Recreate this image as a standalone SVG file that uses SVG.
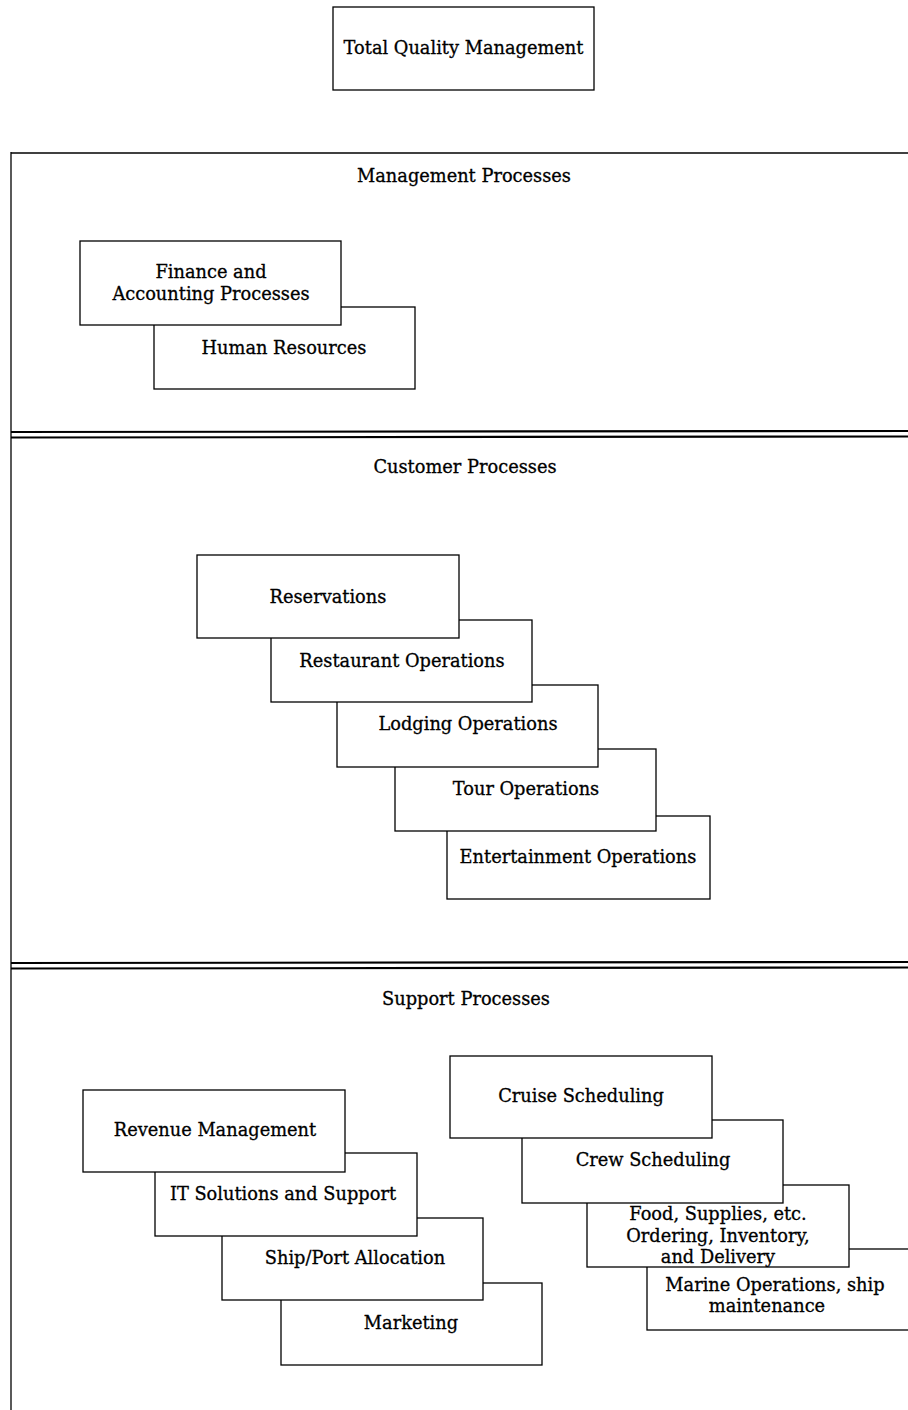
<svg xmlns="http://www.w3.org/2000/svg" width="908" height="1410" viewBox="0 0 908 1410">
<style>
.bx{fill:#fff;stroke:#000;stroke-width:1.3}
.t{font-family:"DejaVu Serif","Liberation Serif",serif;font-size:17.8px;fill:#000;stroke:#000;stroke-width:0.3;text-anchor:middle}
.fr{stroke:#000;fill:none}
</style>
<rect width="908" height="1410" fill="#fff"/>
<g id="frame">
<line class="fr" x1="11" y1="153" x2="908" y2="153" stroke-width="1.3"/>
<line class="fr" x1="11" y1="152" x2="11" y2="1410" stroke-width="1.3"/>
<line class="fr" x1="11" y1="432" x2="908" y2="431" stroke-width="2.2"/>
<line class="fr" x1="11" y1="437.5" x2="908" y2="436.5" stroke-width="2.2"/>
<line class="fr" x1="11" y1="963" x2="908" y2="962" stroke-width="2.2"/>
<line class="fr" x1="11" y1="968.5" x2="908" y2="967.5" stroke-width="2.2"/>
</g>
<g id="tqm"><rect class="bx" x="333" y="7" width="261" height="83"/><text class="t" x="463.5" y="54">Total Quality Management</text></g>
<g id="label-management"><text class="t" x="464" y="182">Management Processes</text></g>
<g id="label-customer"><text class="t" x="465" y="473">Customer Processes</text></g>
<g id="label-support"><text class="t" x="466" y="1005">Support Processes</text></g>

<g id="hr"><rect class="bx" x="154" y="307" width="261" height="82"/><text class="t" x="284" y="354">Human Resources</text></g>
<g id="finance"><rect class="bx" x="80" y="241" width="261" height="84"/><text class="t" x="211" y="278">Finance and</text><text class="t" x="211" y="300">Accounting Processes</text></g>

<g id="entertainment"><rect class="bx" x="447" y="816" width="263" height="83"/><text class="t" x="578" y="863">Entertainment Operations</text></g>
<g id="tour"><rect class="bx" x="395" y="749" width="261" height="82"/><text class="t" x="526" y="795">Tour Operations</text></g>
<g id="lodging"><rect class="bx" x="337" y="685" width="261" height="82"/><text class="t" x="468" y="730">Lodging Operations</text></g>
<g id="restaurant"><rect class="bx" x="271" y="620" width="261" height="82"/><text class="t" x="402" y="667">Restaurant Operations</text></g>
<g id="reservations"><rect class="bx" x="197" y="555" width="262" height="83"/><text class="t" x="328" y="603">Reservations</text></g>

<g id="marketing"><rect class="bx" x="281" y="1283" width="261" height="82"/><text class="t" x="411" y="1329">Marketing</text></g>
<g id="shipport"><rect class="bx" x="222" y="1218" width="261" height="82"/><text class="t" x="355" y="1264">Ship/Port Allocation</text></g>
<g id="it"><rect class="bx" x="155" y="1153" width="262" height="83"/><text class="t" x="283" y="1200">IT Solutions and Support</text></g>
<g id="revenue"><rect class="bx" x="83" y="1090" width="262" height="82"/><text class="t" x="215" y="1136">Revenue Management</text></g>

<g id="marine"><rect class="bx" x="647" y="1249" width="262" height="81"/><text class="t" x="775" y="1291">Marine Operations, ship</text><text class="t" x="767" y="1312">maintenance</text></g>
<g id="food"><rect class="bx" x="587" y="1185" width="262" height="82"/><text class="t" x="718" y="1220">Food, Supplies, etc.</text><text class="t" x="718" y="1242">Ordering, Inventory,</text><text class="t" x="718" y="1263">and Delivery</text></g>
<g id="crew"><rect class="bx" x="522" y="1120" width="261" height="83"/><text class="t" x="653" y="1166">Crew Scheduling</text></g>
<g id="cruise"><rect class="bx" x="450" y="1056" width="262" height="82"/><text class="t" x="581" y="1102">Cruise Scheduling</text></g>
<g id="connectors"></g>
</svg>
